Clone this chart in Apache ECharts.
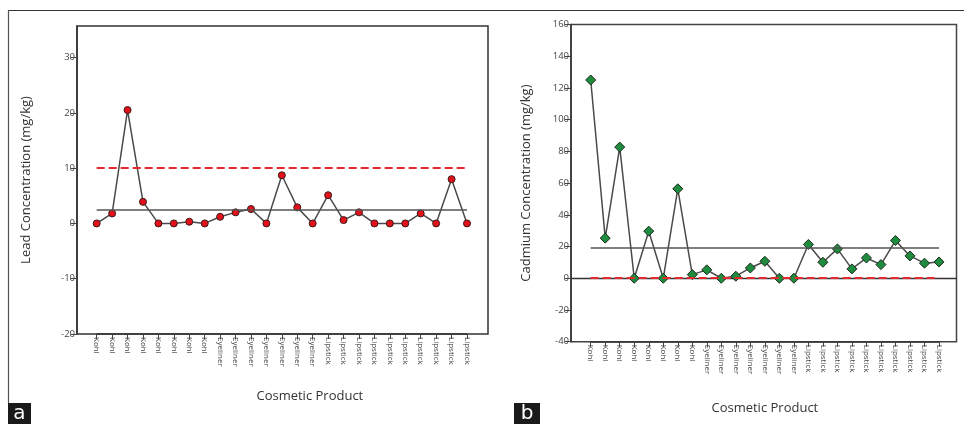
<!DOCTYPE html>
<html>
<head>
<meta charset="utf-8">
<script src="https://cdn.jsdelivr.net/npm/echarts@6/dist/echarts.min.js"></script>
<style>html,body{margin:0;padding:0;background:#fff;}#c{width:964px;height:424px;}</style>
</head>
<body>
<div id="c"></div>
<script>
// ---- data ----
const categories = ["Kohl","Kohl","Kohl","Kohl","Kohl","Kohl","Kohl","Kohl",
  "Eyeliner","Eyeliner","Eyeliner","Eyeliner","Eyeliner","Eyeliner","Eyeliner",
  "Lipstick","Lipstick","Lipstick","Lipstick","Lipstick","Lipstick","Lipstick","Lipstick","Lipstick","Lipstick"];
const leadValues = [0, 1.8, 20.5, 3.9, 0, 0, 0.3, 0, 1.2, 2.0, 2.6, 0, 8.7, 2.9, 0,
  5.1, 0.6, 2.0, 0, 0, 0, 1.8, 0, 8.0, 0];
const cadmiumValues = [125, 25.3, 82.7, 0, 29.7, 0, 56.4, 2.3, 5.3, 0, 1.3, 6.5, 10.7, 0, 0,
  21.3, 10.1, 18.5, 5.9, 12.8, 8.6, 23.8, 14.1, 9.5, 10.3];
const leadMean = 2.5, leadLimit = 10;
const cadmiumMean = 19.2, cadmiumLimit = 0.5;
const leadAxis = {min: -20, max: 35.7, interval: 10};
const cadmiumAxis = {min: -40, max: 160, interval: 20};
const panelLabels = ["a", "b"];
const yNames = ["Lead Concentration (mg/kg)", "Cadmium Concentration (mg/kg)"];
const xName = "Cosmetic Product";

// ---- chart ----
const chart = echarts.init(document.getElementById('c'));
const FONT = '"Open Sans", "DejaVu Sans", sans-serif';
const lineCol = '#4a4a4a';

function frameY(ax, name, gap, pad) {
  return {
    type: 'value', min: ax.min, max: ax.max, interval: ax.interval,
    name: name, nameLocation: 'middle', nameGap: gap, nameRotate: 90,
    nameTextStyle: {fontFamily: FONT, fontSize: 13, color: '#333', padding: pad},
    axisLine: {show: true, lineStyle: {color: '#333', width: 1.5}},
    axisTick: {show: true, length: 6, lineStyle: {color: '#444'}},
    axisLabel: {fontFamily: FONT, fontSize: 9.5, color: '#444', margin: 2, showMaxLabel: ax.max % ax.interval === 0},
    splitLine: {show: false}
  };
}
function hiddenY(ax) {
  return {type: 'value', min: ax.min, max: ax.max, interval: ax.interval, show: false, splitLine: {show: false}};
}
function dataX(gap, pad) {
  return {
    type: 'category', data: categories, boundaryGap: false,
    name: xName, nameLocation: 'middle', nameGap: gap,
    nameTextStyle: {fontFamily: FONT, fontSize: 13, color: '#333', padding: pad},
    axisLine: {show: true, onZero: false, lineStyle: {color: '#333', width: 1.5}},
    axisTick: {show: true, length: 5, alignWithLabel: true, interval: 0, lineStyle: {color: '#444'}},
    axisLabel: {interval: 0, rotate: -90, fontFamily: FONT, fontSize: 8, color: '#444', margin: 3},
    splitLine: {show: false}
  };
}
function markLines(mean, limit) {
  return {
    silent: true, symbol: 'none', label: {show: false},
    data: [
      {yAxis: mean, lineStyle: {color: '#555', width: 1.6, type: 'solid'}},
      {yAxis: limit, lineStyle: {color: '#e8262d', width: 2, type: [8, 4]}}
    ]
  };
}

const option = {
  animation: false,
  backgroundColor: '#fff',
  grid: [
    {left: 77, top: 26, width: 411, height: 308, show: true, borderColor: '#333', borderWidth: 1.5, backgroundColor: 'transparent'},
    {left: 96.7, top: 26, width: 370.3, height: 308},
    {left: 571, top: 24.5, width: 385.5, height: 317.2, show: true, borderColor: '#444', borderWidth: 1.5, backgroundColor: 'transparent'},
    {left: 590.7, top: 24.5, width: 348.3, height: 317.2}
  ],
  xAxis: [
    {gridIndex: 0, type: 'value', min: 0, max: 1, show: false},
    Object.assign({gridIndex: 1}, dataX(56, [0, 0, 0, 56])),
    {gridIndex: 2, type: 'value', min: 0, max: 1, show: true,
     axisLine: {show: true, onZero: true, lineStyle: {color: '#333', width: 1.3}},
     axisTick: {show: false}, axisLabel: {show: false}, splitLine: {show: false}},
    Object.assign({gridIndex: 3}, dataX(60, [0, 0, 0, 0]))
  ],
  yAxis: [
    Object.assign({gridIndex: 0}, frameY(leadAxis, yNames[0], 44, [0, 0, 0, 0])),
    Object.assign({gridIndex: 1}, hiddenY(leadAxis)),
    Object.assign({gridIndex: 2}, frameY(cadmiumAxis, yNames[1], 38, [0, 0, 0, 0])),
    Object.assign({gridIndex: 3}, hiddenY(cadmiumAxis))
  ],
  series: [
    {
      type: 'line', xAxisIndex: 1, yAxisIndex: 1, data: leadValues,
      symbol: 'circle', symbolSize: 7,
      itemStyle: {color: '#e3121a', borderColor: '#3a1a1a', borderWidth: 1},
      lineStyle: {color: lineCol, width: 1.5},
      markLine: markLines(leadMean, leadLimit), z: 3
    },
    {
      type: 'line', xAxisIndex: 3, yAxisIndex: 3, data: cadmiumValues,
      symbol: 'diamond', symbolSize: 10,
      itemStyle: {color: '#1e8b3e', borderColor: '#1a2a1a', borderWidth: 1},
      lineStyle: {color: lineCol, width: 1.5},
      markLine: markLines(cadmiumMean, cadmiumLimit), z: 3
    }
  ],
  graphic: [
    {type: 'line', shape: {x1: 8, y1: 10.5, x2: 964, y2: 10.5}, style: {stroke: '#333', lineWidth: 1.2}},
    {type: 'line', shape: {x1: 8.5, y1: 10, x2: 8.5, y2: 403}, style: {stroke: '#555', lineWidth: 1.2}},
    {type: 'rect', shape: {x: 8, y: 403, width: 23, height: 21}, style: {fill: '#1a1a1a'}},
    {type: 'text', x: 19.5, y: 414, style: {text: panelLabels[0], fill: '#fff', font: '20px "DejaVu Sans", sans-serif', align: 'center', verticalAlign: 'middle'}},
    {type: 'rect', shape: {x: 514, y: 403, width: 26, height: 21}, style: {fill: '#1a1a1a'}},
    {type: 'text', x: 527, y: 414, style: {text: panelLabels[1], fill: '#fff', font: '20px "DejaVu Sans", sans-serif', align: 'center', verticalAlign: 'middle'}}
  ]
};
chart.setOption(option);
</script>
</body>
</html>
